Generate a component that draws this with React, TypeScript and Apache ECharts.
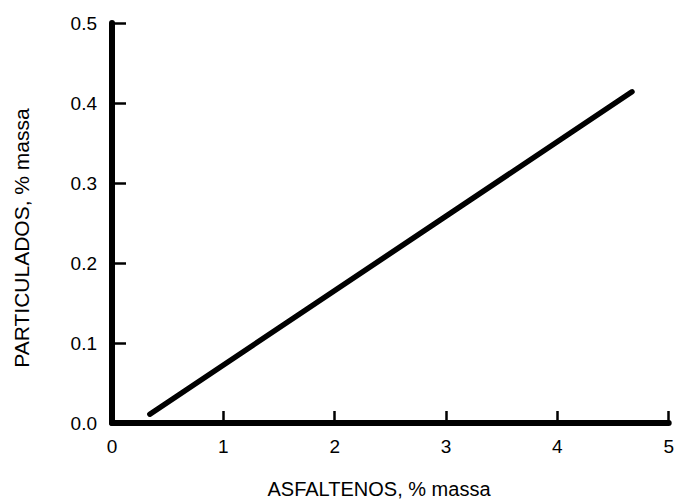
import React, { useEffect, useRef } from "react";
import * as echarts from "echarts";

const xValues = [0.34, 4.67];
const yValues = [0.011, 0.414];
const xTicks = [0, 1, 2, 3, 4, 5];
const yTicks = [0.0, 0.1, 0.2, 0.3, 0.4, 0.5];
const xTitle = "ASFALTENOS, % massa";
const yTitle = "PARTICULADOS, % massa";

export default function App() {
  const ref = useRef<HTMLDivElement>(null);
  useEffect(() => {
    if (!ref.current) return;
    const chart = echarts.init(ref.current, undefined, { renderer: "svg" });
    const font = "Liberation Sans, Arial, sans-serif";
    chart.setOption({
      animation: false,
      backgroundColor: "#ffffff",
      grid: { left: 112, right: 3, top: 23, bottom: 77 },
      xAxis: {
        type: "value",
        min: xTicks[0],
        max: xTicks[xTicks.length - 1],
        interval: 1,
        axisLine: { show: true, lineStyle: { color: "#000", width: 6 } },
        axisTick: { show: true, inside: true, length: 12, lineStyle: { color: "#000", width: 2.5 } },
        axisLabel: { color: "#000", fontSize: 19, fontFamily: font, margin: 14, showMaxLabel: true },
        splitLine: { show: false },
      },
      yAxis: {
        type: "value",
        min: yTicks[0],
        max: yTicks[yTicks.length - 1],
        interval: 0.1,
        axisLine: { show: true, lineStyle: { color: "#000", width: 6, cap: "round" } },
        axisTick: { show: true, inside: true, length: 14, lineStyle: { color: "#000", width: 2.5 } },
        axisLabel: {
          color: "#000",
          fontSize: 19,
          fontFamily: font,
          margin: 15,
          formatter: (v: number) => v.toFixed(1),
        },
        splitLine: { show: false },
      },
      graphic: [
        {
          type: "text",
          x: 379,
          y: 499,
          style: {
            text: xTitle,
            fill: "#000",
            font: `20px ${font}`,
            align: "center",
            verticalAlign: "bottom",
          },
        },
        {
          type: "text",
          x: 21,
          y: 238,
          rotation: Math.PI / 2,
          style: {
            text: yTitle,
            fill: "#000",
            font: `21px ${font}`,
            align: "center",
            verticalAlign: "middle",
          },
        },
      ],
      series: [
        {
          type: "line",
          data: xValues.map((x, i) => [x, yValues[i]]),
          showSymbol: false,
          symbol: "none",
          lineStyle: { color: "#000", width: 5.5, cap: "round" },
        },
      ],
    });
    return () => chart.dispose();
  }, []);
  return <div ref={ref} style={{ width: 677, height: 500, position: "absolute", left: 0, top: 0 }} />;
}
